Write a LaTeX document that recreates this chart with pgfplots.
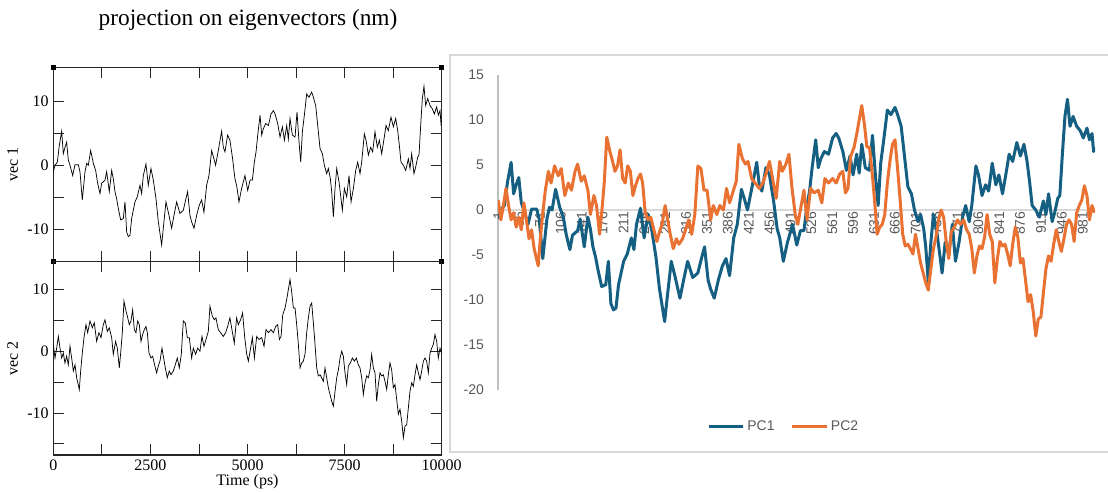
\documentclass[border=0pt]{standalone}
\usepackage{fontspec}
\setmainfont{Liberation Serif}
\newfontfamily\xlfont{Liberation Sans}
\usepackage{pgfplots}
\usepackage{pgfplotstable}
\pgfplotsset{compat=1.18}
\definecolor{pcone}{HTML}{156082}
\definecolor{pctwo}{HTML}{E97132}
\definecolor{xlgray}{HTML}{595959}
\definecolor{xlline}{HTML}{D9D9D9}
\definecolor{xlaxis}{HTML}{BFBFBF}

\pgfplotstableread{
t v
0 -1.0
43 0.0
103 0.5
154 3.1
215 5.3
257 1.8
300 2.8
343 3.6
386 0.8
429 0.0
498 -1.6
558 0.1
644 0.1
686 -1.0
746 -5.4
815 -1.0
858 0.3
901 0.0
961 2.3
1030 0.3
1090 -0.8
1141 -2.8
1201 -4.4
1244 -2.8
1330 -2.3
1373 -1.0
1441 -4.1
1502 -0.8
1544 -2.1
1587 -4.1
1630 -5.2
1673 -6.7
1733 -8.5
1802 -8.3
1845 -5.7
1888 -10.4
1931 -11.1
1973 -10.9
2016 -8.3
2102 -5.7
2162 -4.9
2231 -3.1
2274 -4.4
2317 -1.6
2385 0.2
2445 -3.1
2514 -0.5
2574 -2.3
2643 -5.2
2703 -8.8
2746 -10.6
2789 -12.4
2831 -9.8
2900 -5.7
2960 -7.3
3046 -9.8
3106 -7.8
3175 -5.7
3260 -7.5
3346 -7.0
3406 -5.4
3458 -4.1
3518 -7.8
3561 -8.8
3621 -9.8
3689 -7.8
3758 -6.2
3818 -5.4
3878 -7.3
3947 -3.1
4007 -1.6
4076 2.3
4136 1.0
4178 0.0
4247 2.3
4333 5.3
4376 2.8
4419 2.1
4487 4.7
4547 3.9
4616 1.0
4676 -2.1
4719 -3.1
4779 -5.7
4848 -3.6
4934 -1.6
5005 -3.9
5065 -2.3
5125 -2.3
5176 0.5
5219 2.1
5262 4.7
5322 7.8
5365 4.7
5408 5.7
5468 6.5
5537 6.2
5605 8.0
5665 8.5
5708 8.0
5777 6.5
5837 4.4
5897 6.0
5949 3.9
6009 6.2
6051 4.1
6094 7.3
6154 4.7
6223 4.4
6274 8.3
6326 3.6
6369 0.5
6412 5.2
6463 7.8
6523 11.1
6583 10.6
6652 11.4
6695 10.6
6755 9.3
6807 6.2
6867 2.6
6927 1.8
6978 0.0
7038 -1.3
7081 -0.5
7133 -2.1
7167 -4.1
7210 -8.0
7253 -3.6
7296 -0.5
7356 -2.6
7407 -5.2
7441 -7.0
7493 -3.6
7553 -4.9
7613 -1.6
7665 -5.7
7725 -3.6
7785 -0.8
7836 0.5
7896 -1.3
7939 0.5
8008 4.9
8051 3.9
8111 1.6
8171 2.8
8222 2.1
8282 5.2
8342 2.8
8394 3.9
8454 1.8
8514 4.1
8565 6.2
8625 5.4
8694 7.5
8754 6.0
8814 7.3
8866 5.4
8909 3.1
8951 0.5
9012 0.0
9072 -0.8
9140 1.0
9183 -0.5
9226 1.8
9286 -1.3
9329 -0.3
9381 1.3
9415 1.6
9458 6.2
9501 10.4
9543 12.3
9586 9.3
9638 10.4
9698 9.3
9758 8.8
9809 8.0
9870 9.1
9912 7.8
9955 8.5
9981 6.5
9998 7.0
}\vecone

\pgfplotstableread{
t v
0 1.1
43 -1.1
86 0.5
129 2.4
172 0.5
215 -1.1
257 -0.3
300 -1.9
343 -0.8
386 -2.2
429 0.8
472 -1.1
515 -3.2
558 -2.2
601 -4.3
669 -6.2
704 -3.2
746 -0.3
789 2.2
841 4.3
884 3.0
944 4.9
1004 3.8
1055 4.6
1115 1.6
1175 3.0
1227 2.2
1287 4.3
1330 5.1
1390 3.2
1441 3.8
1502 2.2
1544 -0.5
1604 1.6
1647 0.5
1699 -2.7
1742 0.3
1776 3.0
1819 8.1
1871 6.5
1905 5.7
1956 4.3
1999 4.9
2042 6.7
2085 3.5
2128 3.0
2171 4.9
2214 4.3
2257 1.6
2300 2.7
2342 3.5
2385 4.0
2420 3.0
2463 -0.3
2514 -1.1
2557 -0.8
2608 -2.2
2660 -3.5
2703 -2.4
2746 -1.6
2797 0.5
2840 -1.1
2883 -2.7
2934 -4.3
2986 -3.2
3029 -3.8
3089 -3.2
3140 -2.2
3192 -1.1
3243 -2.7
3295 -0.5
3346 4.9
3398 4.6
3449 2.2
3501 2.2
3561 -1.1
3604 0.5
3664 -0.5
3715 0.5
3775 0.0
3827 2.4
3878 0.8
3930 1.9
3990 3.2
4033 7.3
4093 5.7
4144 5.1
4187 5.4
4247 3.5
4307 3.0
4376 2.4
4436 3.0
4487 4.0
4547 5.4
4599 3.5
4659 1.3
4719 5.4
4762 4.3
4822 5.1
4873 6.2
4925 2.4
4979 -0.5
5022 -1.6
5065 0.0
5125 2.2
5176 -1.1
5236 2.4
5296 1.9
5365 2.2
5425 0.8
5476 3.5
5537 3.0
5605 3.5
5665 3.0
5725 4.0
5777 4.3
5820 1.9
5863 2.4
5906 5.9
5966 7.0
6009 8.4
6051 10.0
6094 11.6
6137 9.6
6180 7.0
6223 7.0
6266 4.3
6309 1.1
6352 -2.7
6395 -1.9
6437 -1.6
6480 -0.5
6523 3.0
6566 5.4
6609 7.3
6652 7.8
6695 4.6
6738 1.1
6781 -2.7
6823 -4.0
6867 -3.8
6909 -4.3
6952 -4.9
6995 -2.7
7038 -4.3
7081 -5.9
7124 -7.0
7167 -8.1
7210 -8.9
7253 -6.5
7296 -4.3
7339 -3.0
7382 -1.1
7425 0.0
7467 -0.8
7510 -3.5
7553 -5.4
7596 -2.4
7647 -1.9
7699 -1.1
7751 -1.6
7802 -1.1
7853 -2.2
7896 -2.7
7939 -4.3
7982 -7.0
8025 -5.1
8068 -4.0
8111 -4.3
8154 -3.0
8196 -0.5
8239 -2.7
8282 -3.5
8325 -8.1
8368 -5.4
8411 -3.5
8454 -4.0
8497 -3.8
8540 -4.9
8583 -6.2
8625 -3.8
8668 -1.9
8711 -3.0
8754 -5.9
8797 -5.4
8840 -7.8
8883 -10.2
8926 -9.4
8969 -11.3
9012 -14.0
9055 -12.1
9098 -11.9
9140 -9.2
9183 -6.5
9226 -5.1
9269 -5.7
9312 -3.8
9355 -2.2
9398 -3.5
9441 -4.6
9484 -3.2
9527 -1.6
9570 -1.1
9612 -1.6
9655 -3.5
9698 -0.3
9741 0.5
9784 1.1
9827 2.7
9870 1.6
9912 -1.1
9955 0.5
9998 -0.3
}\vectwo

\pgfplotsset{
  grace/.style={
    scale only axis, width=291.3pt,
    xmin=0, xmax=10000,
    scaled x ticks=false, scaled y ticks=false,
    tick align=inside, major tick length=8pt,
    axis line style={black!85, line width=0.8pt},
    every tick/.style={black!85, line width=0.7pt},
    xtick={0,1250,...,10000},
    tick label style={font=\fontsize{12}{14}\selectfont},
    label style={font=\fontsize{12}{14}\selectfont},
  },
  handles/.style={after end axis/.code={
    \fill[black] (rel axis cs:0,0) ++(-2pt,-2pt) rectangle ++(4pt,4pt);
    \fill[black] (rel axis cs:1,0) ++(-2pt,-2pt) rectangle ++(4pt,4pt);
    \fill[black] (rel axis cs:0,1) ++(-2pt,-2pt) rectangle ++(4pt,4pt);
    \fill[black] (rel axis cs:1,1) ++(-2pt,-2pt) rectangle ++(4pt,4pt);
  }},
}

\begin{document}
\begin{tikzpicture}
\useasboundingbox (0,0) rectangle (831pt,369.75pt);
% Excel chart area frame
\draw[xlline, line width=0.8pt] (840pt,328.5pt) -- (337.5pt,328.5pt) -- (337.5pt,30.75pt) -- (840pt,30.75pt);
% title of the left figure
\node[font=\fontsize{17.5}{20}\selectfont] at (186pt,354.5pt) {projection on eigenvectors (nm)};

% top panel: vec 1
\begin{axis}[grace, handles,
  at={(40pt,173.5pt)}, anchor=south west, height=145.5pt,
  ymin=-15, ymax=15.2,
  ytick={-10,-5,0,5,10}, yticklabels={-10,,0,,10},
  xticklabels={},
  ylabel={vec 1},
]
\addplot[black, line width=0.55pt] table[x=t, y=v] {\vecone};
\end{axis}

% bottom panel: vec 2
\begin{axis}[grace,
  at={(40pt,28.5pt)}, anchor=south west, height=145pt,
  ymin=-16.8, ymax=14.5,
  ytick={-15,-10,-5,0,5,10}, yticklabels={,-10,,0,,10},
  xticklabels={0,,2500,,5000,,7500,,10000},
  xlabel={Time (ps)}, ylabel={vec 2},
  xlabel style={yshift=4pt},
]
\addplot[black, line width=0.55pt] table[x=t, y=v] {\vectwo};
\end{axis}

% right: Excel-style chart
\begin{axis}[
  at={(373.5pt,77.25pt)}, anchor=south west,
  scale only axis, width=447.75pt, height=236.25pt,
  xmin=0.5, xmax=1001.5, ymin=-20, ymax=15,
  axis x line=middle, axis y line=left,
  x axis line style={-, xlline, line width=0.8pt},
  y axis line style={-, xlaxis, line width=0.8pt},
  major tick length=0pt,
  xtick={1,36,...,981},
  ytick={-20,-15,...,15},
  yticklabels={-20,-15,-10,-5,0,5,10,15},
  /pgf/number format/assume math mode=true,
  xticklabel style={rotate=90, anchor=east, font=\xlfont\fontsize{10.5}{12}\selectfont, text=xlgray, inner sep=1pt},
  yticklabel style={font=\xlfont\fontsize{10.5}{12}\selectfont, text=xlgray, xshift=-7pt},
  legend style={at={(0.479,-0.117)}, anchor=center, draw=none, fill=none,
    legend columns=2, font=\xlfont\fontsize{10.5}{12}\selectfont, text=xlgray,
    /tikz/every even column/.append style={column sep=10pt}},
  legend image code/.code={\draw[#1] (0pt,0pt) -- (26pt,0pt);},
]
\addplot[pcone, line width=2.25pt, line join=round] table[x expr=\thisrow{t}/10+1, y=v] {\vecone};
\addlegendentry{PC1}
\addplot[pctwo, line width=2.25pt, line join=round] table[x expr=\thisrow{t}/10+1, y=v] {\vectwo};
\addlegendentry{PC2}
\end{axis}
\end{tikzpicture}
\end{document}
